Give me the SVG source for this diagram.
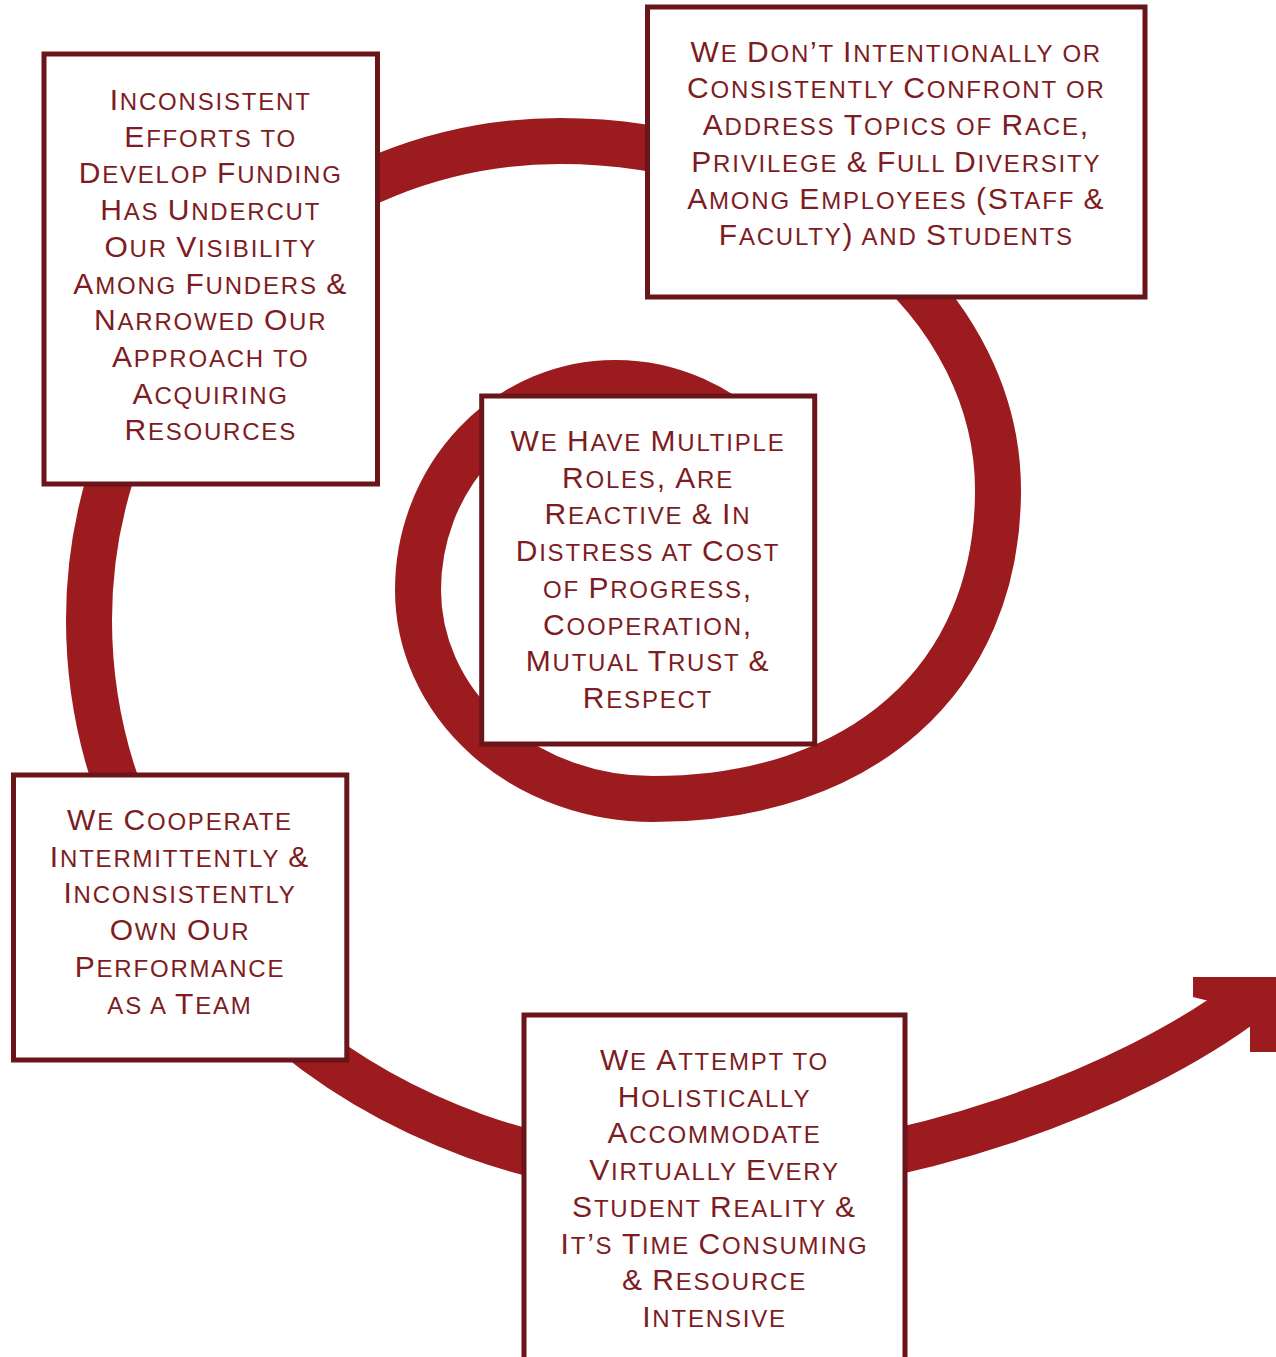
<svg xmlns="http://www.w3.org/2000/svg" width="1276" height="1357" viewBox="0 0 1276 1357">
<style>
.box{fill:#ffffff;stroke:#6a1519;stroke-width:5}
.spiral{fill:none;stroke:#9b1b1f;stroke-width:46;stroke-linecap:butt}
.head{fill:#9b1b1f}
.t{font-family:"Liberation Sans",Arial,sans-serif;font-size:24px;fill:#7d1c22;text-anchor:middle;letter-spacing:1.8px}
.c{font-size:30px}
</style>
<rect width="1276" height="1357" fill="#ffffff"/>
<g id="connectors">
<path class="spiral" d="M 760 447 A 200 207 0 0 0 615 383 A 197 207 0 0 0 418 590 A 235 209 0 0 0 653 799 C 860 799 998 680 998 490 A 438 349 0 0 0 560 141 A 471 479 0 0 0 89 620 A 611 555 0 0 0 700 1175 C 900 1175 1130 1090 1250 998"/>
<polygon class="head" points="1193,997 1193,977 1290,977 1290,1052 1250,1052 1250,1027 1225,1005"/>
</g>
<g id="node-funding">
<rect class="box" x="44" y="54" width="333.5" height="430"/>
<text class="t" x="210.7" y="110"><tspan class="c">I</tspan>NCONSISTENT</text>
<text class="t" x="210.7" y="146.7"><tspan class="c">E</tspan>FFORTS TO</text>
<text class="t" x="210.7" y="183.4"><tspan class="c">D</tspan>EVELOP <tspan class="c">F</tspan>UNDING</text>
<text class="t" x="210.7" y="220.1"><tspan class="c">H</tspan>AS <tspan class="c">U</tspan>NDERCUT</text>
<text class="t" x="210.7" y="256.8"><tspan class="c">O</tspan>UR <tspan class="c">V</tspan>ISIBILITY</text>
<text class="t" x="210.7" y="293.5"><tspan class="c">A</tspan>MONG <tspan class="c">F</tspan>UNDERS <tspan class="c">&amp;</tspan></text>
<text class="t" x="210.7" y="330.2"><tspan class="c">N</tspan>ARROWED <tspan class="c">O</tspan>UR</text>
<text class="t" x="210.7" y="366.9"><tspan class="c">A</tspan>PPROACH TO</text>
<text class="t" x="210.7" y="403.6"><tspan class="c">A</tspan>CQUIRING</text>
<text class="t" x="210.7" y="440.3"><tspan class="c">R</tspan>ESOURCES</text>
</g>
<g id="node-race">
<rect class="box" x="647.5" y="7" width="497.5" height="290"/>
<text class="t" x="896.3" y="61.7"><tspan class="c">W</tspan>E <tspan class="c">D</tspan>ON<tspan class="c">’</tspan>T <tspan class="c">I</tspan>NTENTIONALLY OR</text>
<text class="t" x="896.3" y="98.4"><tspan class="c">C</tspan>ONSISTENTLY <tspan class="c">C</tspan>ONFRONT OR</text>
<text class="t" x="896.3" y="135.1"><tspan class="c">A</tspan>DDRESS <tspan class="c">T</tspan>OPICS OF <tspan class="c">R</tspan>ACE<tspan class="c">,</tspan></text>
<text class="t" x="896.3" y="171.8"><tspan class="c">P</tspan>RIVILEGE <tspan class="c">&amp;</tspan> <tspan class="c">F</tspan>ULL <tspan class="c">D</tspan>IVERSITY</text>
<text class="t" x="896.3" y="208.5"><tspan class="c">A</tspan>MONG <tspan class="c">E</tspan>MPLOYEES <tspan class="c">(S</tspan>TAFF <tspan class="c">&amp;</tspan></text>
<text class="t" x="896.3" y="245.2"><tspan class="c">F</tspan>ACULTY<tspan class="c">)</tspan> AND <tspan class="c">S</tspan>TUDENTS</text>
</g>
<g id="node-roles">
<rect class="box" x="481.7" y="396" width="333" height="348"/>
<text class="t" x="648" y="451"><tspan class="c">W</tspan>E <tspan class="c">H</tspan>AVE <tspan class="c">M</tspan>ULTIPLE</text>
<text class="t" x="648" y="487.7"><tspan class="c">R</tspan>OLES<tspan class="c">,</tspan> <tspan class="c">A</tspan>RE</text>
<text class="t" x="648" y="524.4"><tspan class="c">R</tspan>EACTIVE <tspan class="c">&amp;</tspan> <tspan class="c">I</tspan>N</text>
<text class="t" x="648" y="561.1"><tspan class="c">D</tspan>ISTRESS AT <tspan class="c">C</tspan>OST</text>
<text class="t" x="648" y="597.8">OF <tspan class="c">P</tspan>ROGRESS<tspan class="c">,</tspan></text>
<text class="t" x="648" y="634.5"><tspan class="c">C</tspan>OOPERATION<tspan class="c">,</tspan></text>
<text class="t" x="648" y="671.2"><tspan class="c">M</tspan>UTUAL <tspan class="c">T</tspan>RUST <tspan class="c">&amp;</tspan></text>
<text class="t" x="648" y="707.9"><tspan class="c">R</tspan>ESPECT</text>
</g>
<g id="node-team">
<rect class="box" x="13.5" y="775" width="333.3" height="285"/>
<text class="t" x="180" y="830"><tspan class="c">W</tspan>E <tspan class="c">C</tspan>OOPERATE</text>
<text class="t" x="180" y="866.7"><tspan class="c">I</tspan>NTERMITTENTLY <tspan class="c">&amp;</tspan></text>
<text class="t" x="180" y="903.4"><tspan class="c">I</tspan>NCONSISTENTLY</text>
<text class="t" x="180" y="940.1"><tspan class="c">O</tspan>WN <tspan class="c">O</tspan>UR</text>
<text class="t" x="180" y="976.8"><tspan class="c">P</tspan>ERFORMANCE</text>
<text class="t" x="180" y="1013.5">AS A <tspan class="c">T</tspan>EAM</text>
</g>
<g id="node-student">
<rect class="box" x="524" y="1015" width="381" height="360"/>
<text class="t" x="714.5" y="1070"><tspan class="c">W</tspan>E <tspan class="c">A</tspan>TTEMPT TO</text>
<text class="t" x="714.5" y="1106.7"><tspan class="c">H</tspan>OLISTICALLY</text>
<text class="t" x="714.5" y="1143.4"><tspan class="c">A</tspan>CCOMMODATE</text>
<text class="t" x="714.5" y="1180.1"><tspan class="c">V</tspan>IRTUALLY <tspan class="c">E</tspan>VERY</text>
<text class="t" x="714.5" y="1216.8"><tspan class="c">S</tspan>TUDENT <tspan class="c">R</tspan>EALITY <tspan class="c">&amp;</tspan></text>
<text class="t" x="714.5" y="1253.5"><tspan class="c">I</tspan>T<tspan class="c">’</tspan>S <tspan class="c">T</tspan>IME <tspan class="c">C</tspan>ONSUMING</text>
<text class="t" x="714.5" y="1290.2"><tspan class="c">&amp;</tspan> <tspan class="c">R</tspan>ESOURCE</text>
<text class="t" x="714.5" y="1326.9"><tspan class="c">I</tspan>NTENSIVE</text>
</g>
</svg>
